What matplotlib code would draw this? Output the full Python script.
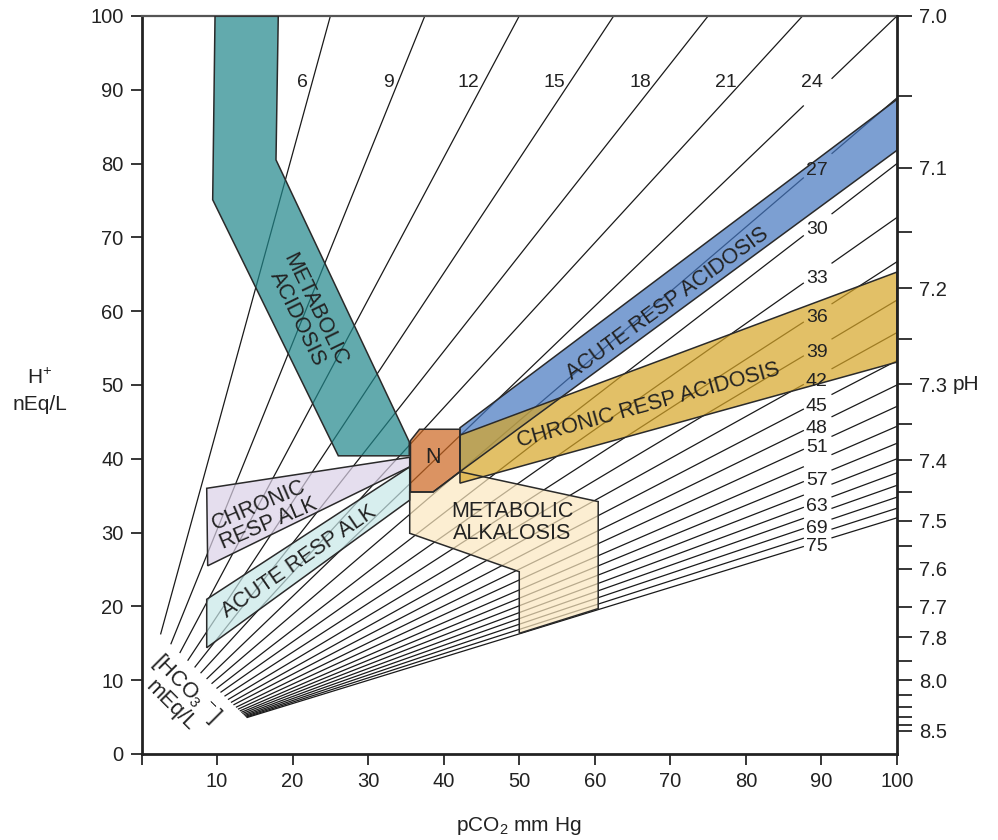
import numpy as np
import matplotlib.pyplot as plt
import matplotlib.colors as mcolors
from matplotlib.patches import Polygon

plt.rcParams['font.family'] = ['Liberation Sans', 'DejaVu Sans']
plt.rcParams['mathtext.fontset'] = 'custom'
plt.rcParams['mathtext.rm'] = 'Liberation Sans'
plt.rcParams['mathtext.it'] = 'Liberation Sans:italic'
plt.rcParams['mathtext.bf'] = 'Liberation Sans:bold'

# --- data -----------------------------------------------------------------
# [HCO3-] isopleths: lower (start) and upper (end) points in (pCO2, H+)
hco3 = [6, 9, 12, 15, 18, 21, 24, 27, 30, 33, 36, 39, 42, 45, 48, 51,
        54, 57, 60, 63, 66, 69, 72, 75]
start_pco2 = [2.54, 3.90, 5.10, 6.15, 7.08, 7.87, 8.67, 9.33, 9.99, 10.52,
              11.05, 11.51, 11.91, 12.24, 12.57, 12.84, 13.08, 13.27, 13.43,
              13.59, 13.72, 13.83, 13.92, 14.00]
start_h = [16.28, 14.94, 13.75, 12.71, 11.79, 11.01, 10.22, 9.57, 8.92, 8.39,
           7.87, 7.41, 7.02, 6.69, 6.36, 6.10, 5.86, 5.67, 5.51, 5.36, 5.23,
           5.12, 5.03, 4.95]
end_pco2 = [25, 37.5, 50, 62.5, 75, 87.5, 100, 100, 100, 100, 100, 100, 100,
            100, 100, 100, 100, 100, 100, 100, 100, 100, 100, 100]
end_h = [100, 100, 100, 100, 100, 100, 100, 88.9, 80.0, 72.7, 66.7, 61.5,
         57.1, 53.3, 50.0, 47.1, 44.4, 42.1, 40.0, 38.1, 36.4, 34.8, 33.3, 32.0]

top_labels = [6, 9, 12, 15, 18, 21, 24]
side_labels = [27, 30, 33, 36, 39, 42, 45, 48, 51, 57, 63, 69, 75]

# acid-base zones (pCO2, H+)
met_acid = [(9.73, 100), (18.1, 100), (17.8, 80.5), (35.44, 42.3),
            (35.44, 40.4), (26.05, 40.4), (9.42, 75.1)]
chronic_alk = [(8.63, 36.0), (35.5, 40.2), (35.5, 38.9), (8.76, 25.5)]
acute_alk = [(8.63, 20.96), (35.5, 38.9), (35.5, 34.4), (8.63, 14.4)]
met_alk = [(35.5, 35.5), (38.6, 35.5), (42.15, 38.25), (60.45, 34.2),
           (60.45, 19.7), (50.0, 16.35), (50.0, 24.7), (35.5, 29.9)]
acute_acid = [(42.15, 44.2), (100, 88.7), (100, 81.8), (42.15, 38.25)]
chronic_acid = [(42.15, 43.2), (100, 65.3), (100, 53.1), (42.15, 36.7)]
normal = [(35.6, 42.45), (36.8, 44.0), (42.15, 44.0), (42.15, 38.25),
          (38.6, 35.5), (35.6, 35.5)]

ph_major = [7.0, 7.1, 7.2, 7.3, 7.4, 7.5, 7.6, 7.7, 7.8, 8.0, 8.5]
ph_minor = [7.05, 7.15, 7.25, 7.35, 7.45, 7.55, 7.9, 8.1, 8.2, 8.3, 8.4]

ALPHA = 0.7
INK = '#222222'


def under(hexcol, a=ALPHA):
    # colour that shows as hexcol on white when drawn with alpha a
    rgb = np.array(mcolors.to_rgb(hexcol))
    return tuple(np.clip((rgb - (1 - a)) / a, 0, 1))


def line_h(i, p):
    p0, h0, p1, h1 = start_pco2[i], start_h[i], end_pco2[i], end_h[i]
    return h0 + (p - p0) * (h1 - h0) / (p1 - p0)


def line_p(i, h):
    p0, h0, p1, h1 = start_pco2[i], start_h[i], end_pco2[i], end_h[i]
    return p0 + (h - h0) * (p1 - p0) / (h1 - h0)


fig = plt.figure(figsize=(9.98, 8.4), dpi=100)
ax = fig.add_axes([0.1418, 0.1024, 0.7570, 0.8786])
ax.set_xlim(0, 100)
ax.set_ylim(0, 100)

# isopleth lines (broken where the side labels sit)
gap_lo, gap_hi, label_p = 87.6, 91.4, 89.4
for i, v in enumerate(hco3):
    p0, h0, p1, h1 = start_pco2[i], start_h[i], end_pco2[i], end_h[i]
    if p1 > gap_hi:
        ax.plot([p0, gap_lo], [h0, line_h(i, gap_lo)], color='#1a1a1a', lw=0.9, zorder=1)
        ax.plot([gap_hi, p1], [line_h(i, gap_hi), h1], color='#1a1a1a', lw=0.9, zorder=1)
    else:
        ax.plot([p0, p1], [h0, h1], color='#1a1a1a', lw=0.9, zorder=1)

    if v in top_labels:
        ax.text(line_p(i, 91.0) - 0.6, 91.0, str(v), ha='right', va='center',
                fontsize=14, color=INK, zorder=5)
    elif v in side_labels:
        ax.text(label_p, line_h(i, label_p) - 0.6, str(v), ha='center', va='center',
                fontsize=14, color=INK, zorder=5)

zones = [
    (met_acid, '#63ABAE'),
    (chronic_alk, '#E6DFEE'),
    (acute_alk, '#D8EEEF'),
    (met_alk, '#FDEFD2'),
    (acute_acid, '#7C9FD3'),
    (chronic_acid, '#E3C168'),
    (normal, '#DB9462'),
]
for k, (pts, col) in enumerate(zones):
    ax.add_patch(Polygon(pts, closed=True, facecolor=under(col), alpha=ALPHA,
                         edgecolor='none', zorder=2 + k * 0.01))
for pts, col in zones:
    ax.add_patch(Polygon(pts, closed=True, fill=False, edgecolor='#2a2a2a',
                         lw=1.1, zorder=3))

txt = dict(color=INK, fontsize=15.5, ha='center', va='center',
           rotation_mode='anchor', zorder=4)
ax.text(21.8, 59.6, 'METABOLIC\nACIDOSIS', rotation=-64, linespacing=0.95, **txt)
ax.text(16.3, 32.5, 'CHRONIC\nRESP ALK', rotation=23, multialignment='left',
        linespacing=1.0, **txt)
ax.text(20.9, 26.0, 'ACUTE RESP ALK', rotation=34.5, **txt)
ax.text(38.6, 40.2, 'N', **txt)
ax.text(49.1, 31.4, 'METABOLIC\nALKALOSIS', linespacing=1.05, **txt)
ax.text(69.6, 61.0, 'ACUTE RESP ACIDOSIS', rotation=36, **txt)
ax.text(67.1, 47.3, 'CHRONIC RESP ACIDOSIS', rotation=15.5, **txt)
ax.text(5.0, 7.8, '[HCO$_3$$^{\\,-}$]\nmEq/L', rotation=-45, linespacing=1.0,
        **{**txt, 'fontsize': 15.5})

# axes styling
ax.set_xticks(range(0, 101, 10))
ax.set_xticklabels([''] + [str(v) for v in range(10, 101, 10)])
ax.set_yticks(range(0, 101, 10))
ax.tick_params(direction='out', length=8, width=1.1, labelsize=14.5,
               labelcolor=INK, pad=5)
for side in ['left', 'bottom']:
    ax.spines[side].set_linewidth(2.0)
    ax.spines[side].set_color(INK)
ax.spines['top'].set_linewidth(1.6)
ax.spines['top'].set_color('#555555')
ax.spines['right'].set_visible(False)

ax2 = ax.twinx()
ax2.set_ylim(0, 100)
ax2.set_yticks([10 ** (9 - v) for v in ph_major])
ax2.set_yticklabels(['%.1f' % v for v in ph_major])
ax2.set_yticks([10 ** (9 - v) for v in ph_minor], minor=True)
ax2.tick_params(which='both', direction='out', length=11, width=1.1,
                labelsize=14.5, labelcolor=INK, pad=5)
ax2.spines['right'].set_linewidth(2.0)
ax2.spines['right'].set_color(INK)
for side in ['left', 'top', 'bottom']:
    ax2.spines[side].set_visible(False)

lab = dict(ha='center', va='center', fontsize=15, color=INK)
fig.text(519 / 998, 1 - 826 / 840, 'pCO$_2$ mm Hg', **lab)
fig.text(40 / 998, 1 - 378 / 840, 'H$^{+}$', **lab)
fig.text(40 / 998, 1 - 404 / 840, 'nEq/L', **lab)
fig.text(966 / 998, 1 - 385 / 840, 'pH', **lab)

fig.savefig('out.png', dpi=100)
